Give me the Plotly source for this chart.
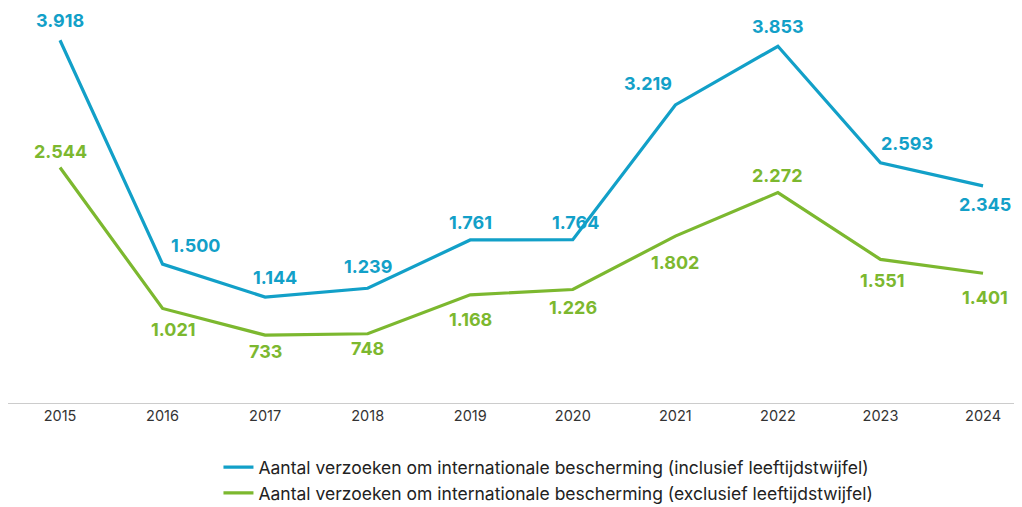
import plotly.graph_objects as go

years = ["2015", "2016", "2017", "2018", "2019", "2020", "2021", "2022", "2023", "2024"]
incl = [3918, 1500, 1144, 1239, 1761, 1764, 3219, 3853, 2593, 2345]
excl = [2544, 1021, 733, 748, 1168, 1226, 1802, 2272, 1551, 1401]
name_incl = "Aantal verzoeken om internationale bescherming (inclusief leeftijdstwijfel)"
name_excl = "Aantal verzoeken om internationale bescherming (exclusief leeftijdstwijfel)"

# label offsets in pixels (dx, dy) relative to the point; dy positive = up
incl_off = [(0, 20), (33, 19), (10, 20), (0, 22), (0, 17), (3, 17), (-27, 21), (0, 20), (27, 19), (2, -19)]
excl_off = [(0, 16), (10, -21), (0, -16), (0, -15), (0, -25), (0, -18), (0, -26), (0, 17), (2, -21), (2, -24)]

BLUE = "#12a0c8"
GREEN = "#7cb82f"

def fmt(v):
    return f"{v:,}".replace(",", ".")

fig = go.Figure()
fig.add_trace(go.Scatter(x=years, y=incl, mode="lines", name=name_incl,
                         line=dict(color=BLUE, width=3.2), hoverinfo="skip"))
fig.add_trace(go.Scatter(x=years, y=excl, mode="lines", name=name_excl,
                         line=dict(color=GREEN, width=3.2), hoverinfo="skip"))

for vals, offs, col in ((incl, incl_off, BLUE), (excl, excl_off, GREEN)):
    for i, (v, (dx, dy)) in enumerate(zip(vals, offs)):
        fig.add_annotation(x=i, y=v, xref="x", yref="y", text="<b>" + fmt(v) + "</b>",
                           showarrow=False, xshift=dx, yshift=dy,
                           font=dict(family="Inter", size=18, color=col))

fig.update_layout(
    width=1014, height=499,
    margin=dict(l=0, r=0, t=0, b=104, autoexpand=False),
    paper_bgcolor="white", plot_bgcolor="white",
    font=dict(family="Inter", color="#333333"),
    showlegend=True,
    legend=dict(orientation="v", x=0.533, xanchor="center", y=-0.117, yanchor="top",
                font=dict(size=17.5, color="#222222"), tracegroupgap=0),
    xaxis=dict(type="category", range=[-0.507, 9.38], showgrid=False, zeroline=False,
               showline=True, linecolor="#cccccc", linewidth=1, ticks="",
               tickfont=dict(size=14.5, color="#333333")),
    yaxis=dict(range=[0, 4266], showgrid=False, zeroline=False, showline=False,
               showticklabels=False, ticks=""),
)

fig.write_html("out.html")
